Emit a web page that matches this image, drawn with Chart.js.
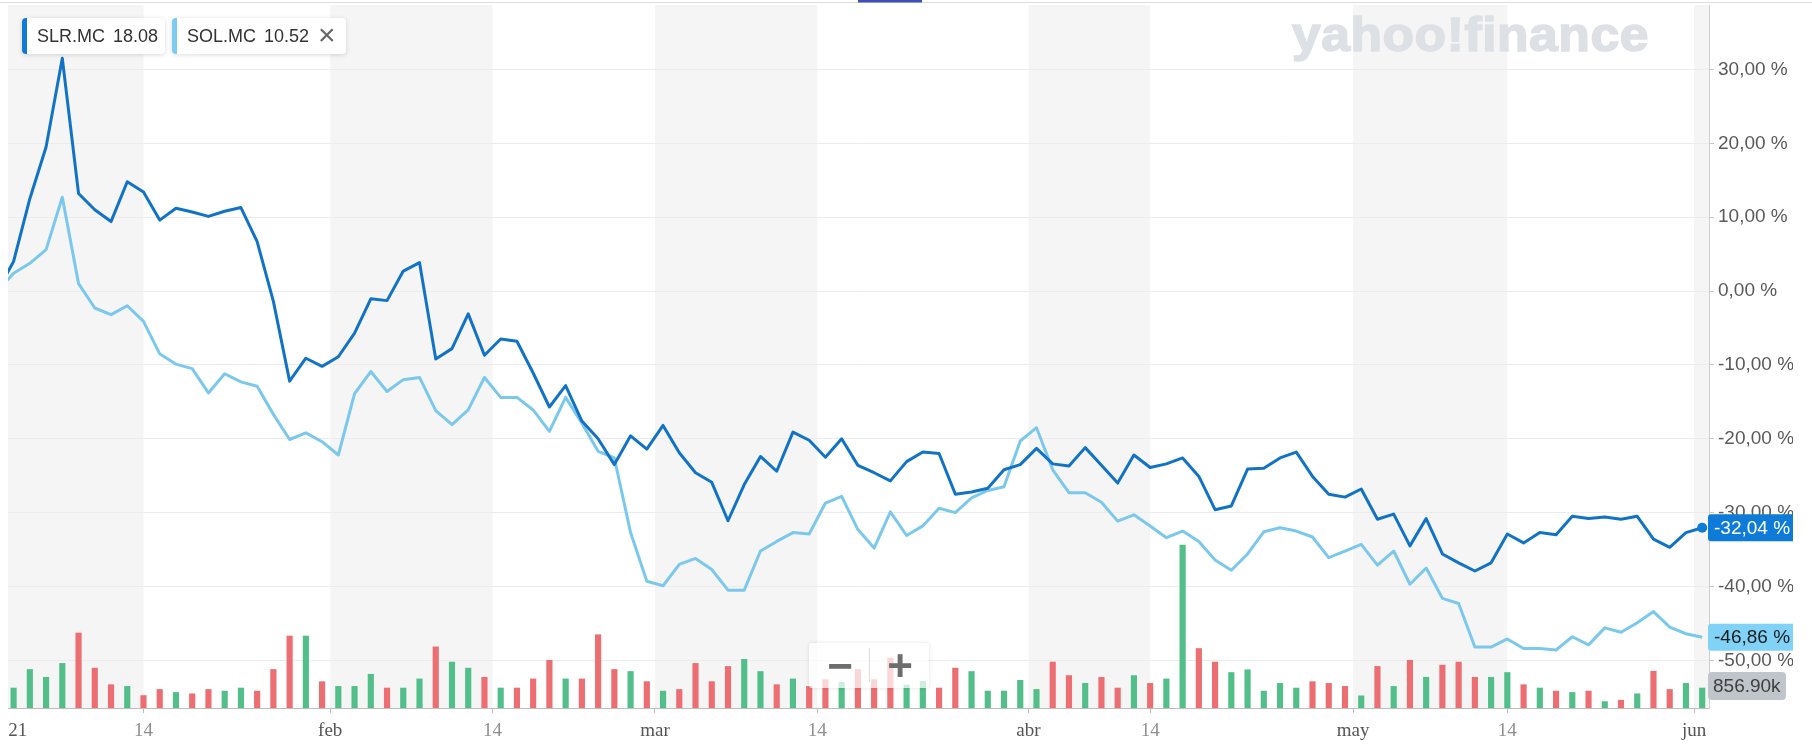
<!DOCTYPE html>
<html>
<head>
<meta charset="utf-8">
<script src="https://cdn.jsdelivr.net/npm/chart.js@4.4.1/dist/chart.umd.min.js"></script>
<style>
html,body{margin:0;padding:0;background:#fff;width:1812px;height:750px;overflow:hidden;}
#wrap{position:relative;width:1812px;height:750px;}
#c{position:absolute;left:0;top:0;}
.chip{position:absolute;top:18px;height:36px;background:#fff;border-radius:4px;box-shadow:0 1px 5px rgba(0,0,0,0.14);font-family:'Liberation Sans',Arial,sans-serif;font-size:18px;color:#333;white-space:nowrap;}
.chip .stripe{position:absolute;left:0;top:0;bottom:0;width:5px;border-radius:4px 0 0 4px;}
.chip span{position:absolute;top:0;line-height:36px;}
.chip .x{font-size:30px;color:#666;line-height:34px;}
#wm{position:absolute;left:1292px;top:11px;font-family:'Liberation Sans',Arial,sans-serif;font-weight:bold;font-size:48px;line-height:48px;color:#dde1e6;-webkit-text-stroke:1.6px #dde1e6;white-space:nowrap;transform-origin:0 0;letter-spacing:0.5px;}
#zoomctl{position:absolute;left:809px;top:643px;width:120px;height:45px;background:rgba(255,255,255,0.72);box-shadow:0 0 4px rgba(0,0,0,0.12);border-radius:3px;font-family:'Liberation Sans',Arial,sans-serif;font-weight:bold;color:#6d6d6d;}
#zoomctl span{position:absolute;top:0;height:45px;line-height:45px;font-size:44px;text-align:center;width:50px;}
#zoomctl .div{position:absolute;left:60px;top:5px;width:1px;height:34px;background:#dcdcdc;}
</style>
</head>
<body>
<div id="wrap">
<canvas id="c" width="1812" height="750"></canvas>
<div id="wm">yahoo!finance</div>
<div class="chip" style="left:22px;width:143px"><div class="stripe" style="background:#0f7bd6"></div><span style="left:15px">SLR.MC</span><span style="left:91px" id="p1"></span></div>
<div class="chip" style="left:172px;width:174px"><div class="stripe" style="background:#7dcbf0"></div><span style="left:15px">SOL.MC</span><span style="left:92px" id="p2"></span><span class="x" style="left:146px">×</span></div>
<div id="zoomctl"><span style="left:6px">−</span><div class="div"></div><span style="left:66px">+</span></div>
</div>
<script>
// ---------- DATA ----------
const dates = ['2020-12-31',
'2021-01-04','2021-01-05','2021-01-06','2021-01-07','2021-01-08','2021-01-11','2021-01-12','2021-01-13','2021-01-14','2021-01-15',
'2021-01-18','2021-01-19','2021-01-20','2021-01-21','2021-01-22','2021-01-25','2021-01-26','2021-01-27','2021-01-28','2021-01-29',
'2021-02-01','2021-02-02','2021-02-03','2021-02-04','2021-02-05','2021-02-08','2021-02-09','2021-02-10','2021-02-11','2021-02-12',
'2021-02-15','2021-02-16','2021-02-17','2021-02-18','2021-02-19','2021-02-22','2021-02-23','2021-02-24','2021-02-25','2021-02-26',
'2021-03-01','2021-03-02','2021-03-03','2021-03-04','2021-03-05','2021-03-08','2021-03-09','2021-03-10','2021-03-11','2021-03-12',
'2021-03-15','2021-03-16','2021-03-17','2021-03-18','2021-03-19','2021-03-22','2021-03-23','2021-03-24','2021-03-25','2021-03-26',
'2021-03-29','2021-03-30','2021-03-31','2021-04-01','2021-04-06','2021-04-07','2021-04-08','2021-04-09','2021-04-12','2021-04-13',
'2021-04-14','2021-04-15','2021-04-16','2021-04-19','2021-04-20','2021-04-21','2021-04-22','2021-04-23','2021-04-26','2021-04-27',
'2021-04-28','2021-04-29','2021-04-30','2021-05-03','2021-05-04','2021-05-05','2021-05-06','2021-05-07','2021-05-10','2021-05-11',
'2021-05-12','2021-05-13','2021-05-14','2021-05-17','2021-05-18','2021-05-19','2021-05-20','2021-05-21','2021-05-24','2021-05-25',
'2021-05-26','2021-05-27','2021-05-28','2021-05-31','2021-06-01'];

const slrPct = [0,
 4.0, 12.5, 19.5, 31.5, 13.2, 11.0, 9.4, 14.8, 13.4, 9.6,
 11.2, 10.7, 10.1, 10.8, 11.3, 6.7, -1.4, -12.2, -9.1, -10.2,
 -8.9, -5.7, -1.05, -1.3, 2.7, 3.85, -9.2, -7.8, -3.1, -8.7,
 -6.5, -6.8, -11.1, -15.7, -12.8, -17.6, -20.0, -23.5, -19.6, -21.4,
 -18.2, -21.9, -24.6, -25.9, -31.1, -26.2, -22.4, -24.4, -19.1, -20.2,
 -22.5, -20.0, -23.6, -24.6, -25.7, -23.1, -21.8, -22.0, -27.5, -27.2,
 -26.7, -24.2, -23.5, -21.3, -23.4, -23.7, -21.2, -23.6, -26.0, -22.2,
 -23.9, -23.4, -22.6, -25.1, -29.6, -29.1, -24.1, -24.0, -22.6, -21.8,
 -25.1, -27.5, -27.9, -26.8, -30.9, -30.2, -34.5, -30.8, -35.6, -36.8,
 -37.9, -36.8, -32.9, -34.1, -32.7, -33.0, -30.5, -30.8, -30.6, -30.9,
 -30.5, -33.6, -34.7, -32.7, -32.04];

const solPct = [0,
 2.4, 3.75, 5.6, 12.7, 1.0, -2.3, -3.2, -2.0, -4.1, -8.5,
 -9.9, -10.5, -13.8, -11.2, -12.3, -12.9, -16.7, -20.1, -19.2, -20.4,
 -22.2, -13.9, -10.9, -13.6, -12.0, -11.7, -16.2, -18.1, -16.1, -11.7,
 -14.4, -14.4, -16.1, -19.0, -14.4, -17.9, -21.7, -22.6, -32.7, -39.3,
 -39.9, -37.0, -36.2, -37.7, -40.5, -40.5, -35.2, -33.9, -32.7, -32.9,
 -28.7, -27.8, -32.3, -34.8, -29.9, -33.1, -31.8, -29.4, -30.0, -28.0,
 -27.0, -26.5, -20.3, -18.5, -24.2, -27.3, -27.3, -28.6, -31.15, -30.3,
 -31.8, -33.4, -32.5, -33.9, -36.4, -37.8, -35.6, -32.6, -32.05, -32.5,
 -33.3, -36.1, -35.2, -34.3, -37.1, -35.2, -39.7, -37.5, -41.6, -42.3,
 -48.2, -48.2, -47.1, -48.4, -48.4, -48.6, -46.8, -47.9, -45.6, -46.2,
 -44.9, -43.4, -45.5, -46.4, -46.86];

// SLR.MC volume, thousands of shares
const slrVolumeK = [null,
 857, 1653, 1318, 1914, 3219, 1710, 1000, 927, 535, 796,
 666, 609, 796, 726, 857, 726, 1653, 3089, 3089, 1131,
 927, 927, 1449, 857, 857, 1248, 2623, 1971, 1710, 1318,
 857, 857, 1248, 2045, 1248, 1248, 3145, 1653, 1566, 1131,
 726, 796, 1914, 1131, 1784, 2088, 1566, 1000, 1248, 927,
 1218, 1101, 1653, 1218, 2145, 987, 1144, 857, 1710, 1566,
 726, 726, 1188, 796, 1971, 1392, 1057, 1318, 857, 1392,
 1057, 1248, 6990, 2553, 1971, 1523, 1640, 726, 1057, 857,
 1131, 1057, 927, 522, 1784, 927, 2045, 1318, 1840, 1971,
 1318, 1318, 1523, 1000, 857, 726, 666, 726, 274, 335,
 609, 1579, 796, 1057, 856.9];

const lastPrices = {slr: '18.08', sol: '10.52'};
const yTickValues = [30, 20, 10, 0, -10, -20, -30, -40, -50];
const xTickDates = ['2021-01-01','2021-01-14','2021-02-01','2021-02-14','2021-03-01','2021-03-14','2021-04-01','2021-04-14','2021-05-01','2021-05-14','2021-06-01'];
const xTickLabels = ['21','14','feb','14','mar','14','abr','14','may','14','jun'];

// ---------- BUILD ----------
document.getElementById('p1').textContent = lastPrices.slr;
document.getElementById('p2').textContent = lastPrices.sol;
const wm = document.getElementById('wm');
wm.style.transform = 'scaleX(' + (357 / wm.offsetWidth) + ')';

const X_MIN = -0.345, X_MAX = 104.42;
const Y_MIN = -56.45, Y_MAX = 38.72;
const VOL_MAX = 30166;

const xOf = i => i - 1; // Dec 31 sits just left of the visible range
function tickPos(d) {
  const k = dates.findIndex(s => s >= d);
  const exact = dates[k] === d && d.slice(8) !== '01';
  return exact ? xOf(k) : xOf(k) - 0.5;
}
const xTicks = xTickDates.map((d, i) => {
  let v = tickPos(d);
  if (v < X_MIN) v = X_MIN + 0.6;
  return {value: v, label: xTickLabels[i]};
});
// shaded half-months: chart start to Jan 14; then month start to the 14th ...; last: jun to end
const bands = [[X_MIN, xTicks[1].value]];
for (let i = 2; i < xTicks.length; i += 2) {
  bands.push([xTicks[i].value, i + 1 < xTicks.length ? xTicks[i + 1].value : X_MAX]);
}

const slrPts = slrPct.map((v, i) => ({x: xOf(i), y: v}));
const solPts = solPct.map((v, i) => ({x: xOf(i), y: v}));
const volPts = [], volColors = [];
slrVolumeK.forEach((v, i) => {
  if (v == null) return;
  volPts.push({x: xOf(i), y: v});
  volColors.push(slrPct[i] >= slrPct[i - 1] ? '#52be89' : '#ec6e72');
});
const lastIdx = slrPts.length - 1;

const fmtPct = v => v.toFixed(2).replace('.', ',') + ' %';

function roundRect(ctx, x, y, w, h, r) {
  ctx.beginPath();
  ctx.moveTo(x + r, y);
  ctx.lineTo(x + w - r, y); ctx.quadraticCurveTo(x + w, y, x + w, y + r);
  ctx.lineTo(x + w, y + h - r); ctx.quadraticCurveTo(x + w, y + h, x + w - r, y + h);
  ctx.lineTo(x + r, y + h); ctx.quadraticCurveTo(x, y + h, x, y + h - r);
  ctx.lineTo(x, y + r); ctx.quadraticCurveTo(x, y, x + r, y);
  ctx.closePath();
}

const deco = {
  id: 'deco',
  beforeDraw(chart) {
    const {ctx, chartArea: a} = chart;
    const xs = chart.scales.x;
    ctx.save();
    ctx.fillStyle = '#ffffff';
    ctx.fillRect(0, 0, chart.width, chart.height);
    ctx.fillStyle = '#f5f5f5';
    bands.forEach(([s, e]) => {
      const x0 = Math.max(a.left, xs.getPixelForValue(s));
      const x1 = Math.min(a.right, xs.getPixelForValue(e));
      ctx.fillRect(x0, a.top, x1 - x0, a.bottom - a.top);
    });
    ctx.restore();
  },
  afterDraw(chart) {
    const {ctx} = chart;
    const ys = chart.scales.y, yv = chart.scales.yv;
    const left = chart.chartArea.right - 1;
    ctx.save();
    ctx.font = '19px "Liberation Sans", Arial, sans-serif';
    ctx.textBaseline = 'middle';
    ctx.textAlign = 'left';
    // last value tags
    const slrLast = slrPct[slrPct.length - 1], solLast = solPct[solPct.length - 1];
    let y = ys.getPixelForValue(slrLast);
    ctx.fillStyle = '#0f7bd8';
    roundRect(ctx, left, y - 13.5, 110, 27, 3); ctx.fill();
    ctx.fillStyle = '#ffffff';
    ctx.fillText(fmtPct(slrLast), left + 6, y + 1);
    y = ys.getPixelForValue(solLast);
    ctx.fillStyle = '#80d2f6';
    roundRect(ctx, left, y - 13.5, 110, 27, 3); ctx.fill();
    ctx.fillStyle = '#1c1c1c';
    ctx.fillText(fmtPct(solLast), left + 6, y + 1);
    const volLast = slrVolumeK[slrVolumeK.length - 1];
    y = yv.getPixelForValue(volLast) - 2;
    ctx.fillStyle = '#c0c4cb';
    roundRect(ctx, left, y - 14, 78, 28, 4); ctx.fill();
    ctx.fillStyle = '#404040';
    ctx.fillText(volLast.toFixed(2) + 'k', left + 5, y + 1);
    // right clip strip
    ctx.fillStyle = '#ffffff';
    ctx.fillRect(1793, 0, chart.width - 1793, chart.height);
    // top border + indicator
    ctx.fillStyle = '#dddddd';
    ctx.fillRect(0, 2, chart.width, 1);
    ctx.fillStyle = '#3f4fb8';
    ctx.fillRect(858, 0, 64, 2.5);
    ctx.restore();
  }
};

Chart.defaults.font.family = '"Liberation Sans", Arial, sans-serif';

new Chart(document.getElementById('c'), {
  type: 'line',
  data: {
    datasets: [
      {type: 'line', label: 'SLR.MC', data: slrPts, yAxisID: 'y', xAxisID: 'x', order: 0,
       borderColor: '#1273c6', borderWidth: 3, tension: 0, borderJoinStyle: 'round',
       pointRadius: c => c.dataIndex === lastIdx ? 5 : 0, pointHoverRadius: 0,
       pointBackgroundColor: '#0f7bd8', pointBorderWidth: 0},
      {type: 'line', label: 'SOL.MC', data: solPts, yAxisID: 'y', xAxisID: 'x', order: 1,
       borderColor: '#7cc8ec', borderWidth: 3, tension: 0, borderJoinStyle: 'round',
       pointRadius: 0, pointHoverRadius: 0},
      {type: 'bar', label: 'Volumen SLR.MC', data: volPts, yAxisID: 'yv', xAxisID: 'x', order: 2,
       backgroundColor: volColors, barThickness: 5.5, borderWidth: 0}
    ]
  },
  options: {
    responsive: false,
    animation: false,
    devicePixelRatio: 1,
    layout: {padding: {left: 8, top: 4, right: 0, bottom: 0}},
    plugins: {legend: {display: false}, tooltip: {enabled: false}},
    scales: {
      x: {
        type: 'linear', min: X_MIN, max: X_MAX, offset: false,
        afterBuildTicks: s => { s.ticks = xTicks.map(t => ({value: t.value})); },
        afterFit: s => { s.height = 42; s.paddingLeft = 0; s.paddingRight = 0; },
        grid: {drawOnChartArea: false, drawTicks: true, tickLength: 5, offset: false,
               tickColor: c => c.index === 0 ? 'rgba(0,0,0,0)' : '#bdbdbd'},
        border: {display: true, color: '#bdbdbd', width: 1},
        ticks: {autoSkip: false, maxRotation: 0, minRotation: 0, padding: 7,
                font: {family: '"Liberation Serif", "Times New Roman", serif', size: 19},
                color: c => (c.index !== 0 && xTicks[c.index] && /^\d+$/.test(xTicks[c.index].label)) ? '#8f8f8f' : '#555555',
                callback: (v, i) => xTicks[i].label}
      },
      y: {
        position: 'right', min: Y_MIN, max: Y_MAX,
        afterBuildTicks: s => { s.ticks = yTickValues.map(v => ({value: v})); },
        afterFit: s => { s.width = 103; s.paddingTop = 0; s.paddingBottom = 0; },
        grid: {color: '#ececec', lineWidth: 1, drawTicks: true, tickLength: 5, tickColor: '#c8c8c8'},
        border: {display: true, color: '#cfcfcf', width: 1},
        ticks: {padding: 4, font: {size: 19}, color: '#5a5a5a', callback: v => fmtPct(v)}
      },
      yv: {display: false, min: 0, max: VOL_MAX}
    }
  },
  plugins: [deco]
});
</script>
</body>
</html>
